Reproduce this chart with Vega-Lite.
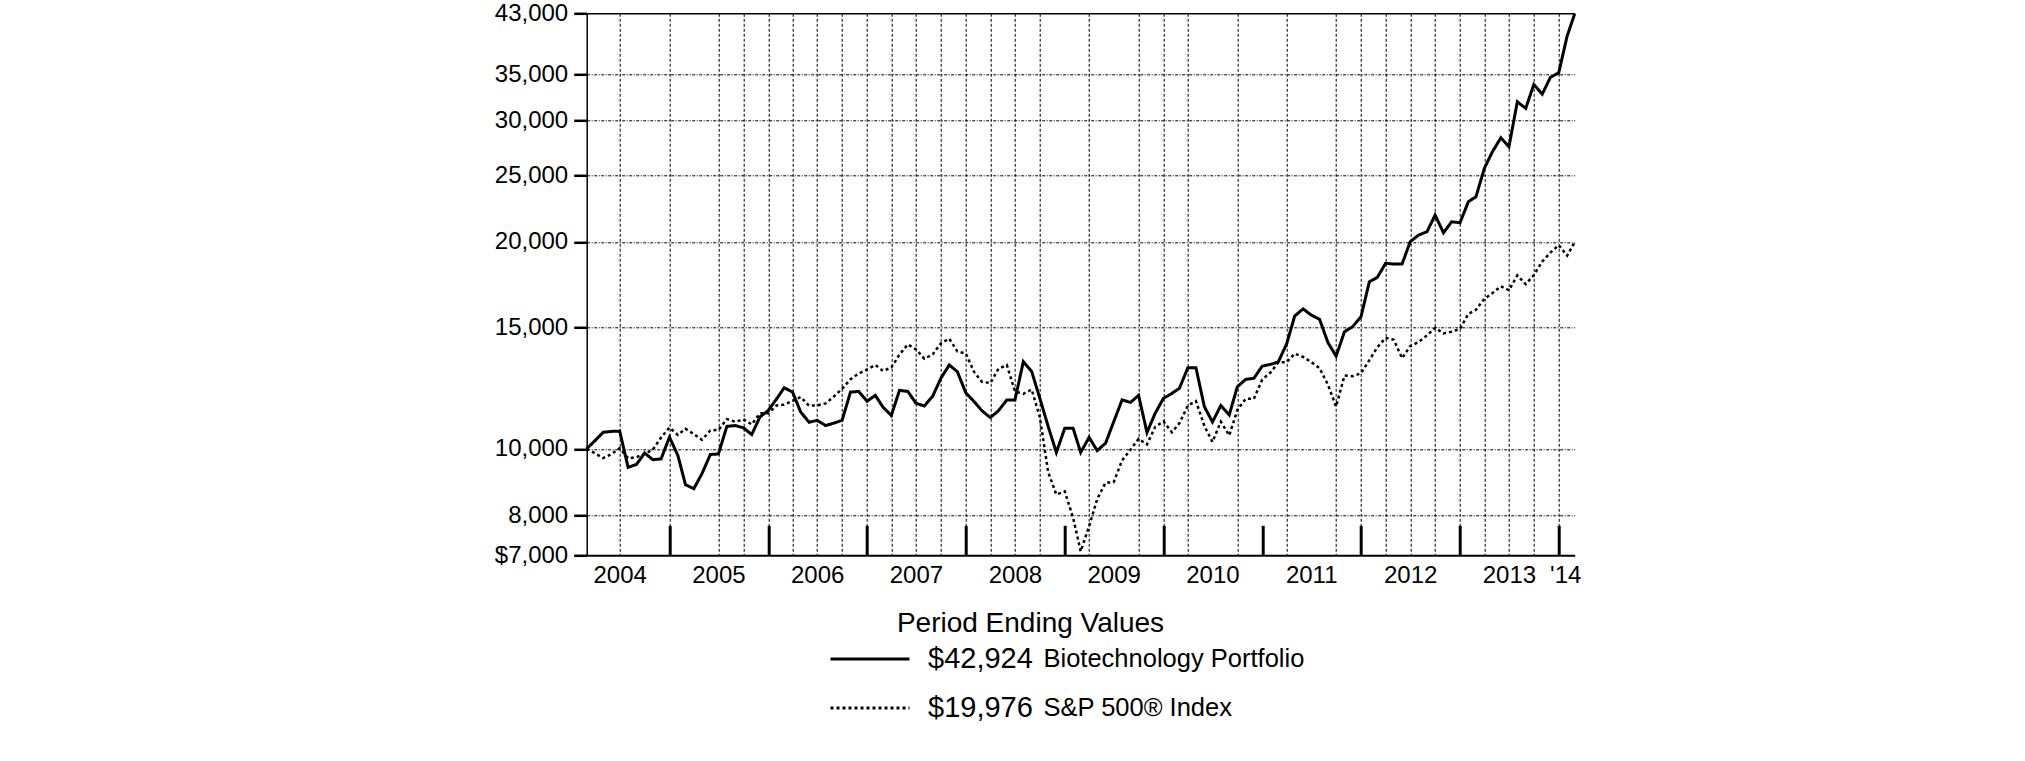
{
  "$schema": "https://vega.github.io/schema/vega-lite/v6.json",
  "width": 988,
  "height": 542,
  "autosize": {"type": "none"},
  "padding": {"left": 586.7, "top": 13.3, "right": 450.3, "bottom": 205.7},
  "background": "white",
  "config": {"font": "Liberation Sans", "view": {"stroke": null}},
  "data": {"values": [
    {"date": "2004-02-29", "bio": 10000, "sp": 10000},
    {"date": "2004-03-31", "bio": 10280, "sp": 9849},
    {"date": "2004-04-30", "bio": 10570, "sp": 9694},
    {"date": "2004-05-31", "bio": 10600, "sp": 9827},
    {"date": "2004-06-30", "bio": 10610, "sp": 10018},
    {"date": "2004-07-31", "bio": 9400, "sp": 9686},
    {"date": "2004-08-31", "bio": 9490, "sp": 9725},
    {"date": "2004-09-30", "bio": 9860, "sp": 9830},
    {"date": "2004-10-31", "bio": 9640, "sp": 9981},
    {"date": "2004-11-30", "bio": 9670, "sp": 10385},
    {"date": "2004-12-31", "bio": 10400, "sp": 10738},
    {"date": "2005-01-31", "bio": 9780, "sp": 10476},
    {"date": "2005-02-28", "bio": 8870, "sp": 10696},
    {"date": "2005-03-31", "bio": 8750, "sp": 10507},
    {"date": "2005-04-30", "bio": 9200, "sp": 10307},
    {"date": "2005-05-31", "bio": 9810, "sp": 10635},
    {"date": "2005-06-30", "bio": 9830, "sp": 10650},
    {"date": "2005-07-31", "bio": 10780, "sp": 11046},
    {"date": "2005-08-31", "bio": 10810, "sp": 10946},
    {"date": "2005-09-30", "bio": 10730, "sp": 11035},
    {"date": "2005-10-31", "bio": 10490, "sp": 10851},
    {"date": "2005-11-30", "bio": 11120, "sp": 11261},
    {"date": "2005-12-31", "bio": 11370, "sp": 11264},
    {"date": "2006-01-31", "bio": 11820, "sp": 11563},
    {"date": "2006-02-28", "bio": 12270, "sp": 11594},
    {"date": "2006-03-31", "bio": 12090, "sp": 11738},
    {"date": "2006-04-30", "bio": 11310, "sp": 11895},
    {"date": "2006-05-31", "bio": 10930, "sp": 11553},
    {"date": "2006-06-30", "bio": 11000, "sp": 11569},
    {"date": "2006-07-31", "bio": 10810, "sp": 11641},
    {"date": "2006-08-31", "bio": 10900, "sp": 11918},
    {"date": "2006-09-30", "bio": 11000, "sp": 12225},
    {"date": "2006-10-31", "bio": 12090, "sp": 12624},
    {"date": "2006-11-30", "bio": 12120, "sp": 12864},
    {"date": "2006-12-31", "bio": 11730, "sp": 13044},
    {"date": "2007-01-31", "bio": 11960, "sp": 13241},
    {"date": "2007-02-28", "bio": 11500, "sp": 12982},
    {"date": "2007-03-31", "bio": 11180, "sp": 13127},
    {"date": "2007-04-30", "bio": 12160, "sp": 13709},
    {"date": "2007-05-31", "bio": 12120, "sp": 14188},
    {"date": "2007-06-30", "bio": 11650, "sp": 13953},
    {"date": "2007-07-31", "bio": 11540, "sp": 13520},
    {"date": "2007-08-31", "bio": 11930, "sp": 13723},
    {"date": "2007-09-30", "bio": 12660, "sp": 14236},
    {"date": "2007-10-31", "bio": 13240, "sp": 14462},
    {"date": "2007-11-30", "bio": 12950, "sp": 13858},
    {"date": "2007-12-31", "bio": 12070, "sp": 13762},
    {"date": "2008-01-31", "bio": 11710, "sp": 12936},
    {"date": "2008-02-29", "bio": 11360, "sp": 12516},
    {"date": "2008-03-31", "bio": 11100, "sp": 12462},
    {"date": "2008-04-30", "bio": 11360, "sp": 13069},
    {"date": "2008-05-31", "bio": 11780, "sp": 13239},
    {"date": "2008-06-30", "bio": 11780, "sp": 12123},
    {"date": "2008-07-31", "bio": 13390, "sp": 12021},
    {"date": "2008-08-31", "bio": 12950, "sp": 12195},
    {"date": "2008-09-30", "bio": 11840, "sp": 11108},
    {"date": "2008-10-31", "bio": 10770, "sp": 9242},
    {"date": "2008-11-30", "bio": 9880, "sp": 8579},
    {"date": "2008-12-31", "bio": 10710, "sp": 8670},
    {"date": "2009-01-31", "bio": 10710, "sp": 7939},
    {"date": "2009-02-28", "bio": 9880, "sp": 7094},
    {"date": "2009-03-31", "bio": 10390, "sp": 7715},
    {"date": "2009-04-30", "bio": 9940, "sp": 8453},
    {"date": "2009-05-31", "bio": 10190, "sp": 8926},
    {"date": "2009-06-30", "bio": 10950, "sp": 8944},
    {"date": "2009-07-31", "bio": 11780, "sp": 9620},
    {"date": "2009-08-31", "bio": 11680, "sp": 9968},
    {"date": "2009-09-30", "bio": 11960, "sp": 10340},
    {"date": "2009-10-31", "bio": 10560, "sp": 10148},
    {"date": "2009-11-30", "bio": 11260, "sp": 10757},
    {"date": "2009-12-31", "bio": 11840, "sp": 10964},
    {"date": "2010-01-31", "bio": 12040, "sp": 10569},
    {"date": "2010-02-28", "bio": 12250, "sp": 10897},
    {"date": "2010-03-31", "bio": 13120, "sp": 11554},
    {"date": "2010-04-30", "bio": 13120, "sp": 11737},
    {"date": "2010-05-31", "bio": 11520, "sp": 10799},
    {"date": "2010-06-30", "bio": 10940, "sp": 10234},
    {"date": "2010-07-31", "bio": 11560, "sp": 10951},
    {"date": "2010-08-31", "bio": 11200, "sp": 10457},
    {"date": "2010-09-30", "bio": 12310, "sp": 11390},
    {"date": "2010-10-31", "bio": 12620, "sp": 11823},
    {"date": "2010-11-30", "bio": 12660, "sp": 11824},
    {"date": "2010-12-31", "bio": 13190, "sp": 12614},
    {"date": "2011-01-31", "bio": 13270, "sp": 12913},
    {"date": "2011-02-28", "bio": 13370, "sp": 13356},
    {"date": "2011-03-31", "bio": 14200, "sp": 13361},
    {"date": "2011-04-30", "bio": 15600, "sp": 13757},
    {"date": "2011-05-31", "bio": 15980, "sp": 13602},
    {"date": "2011-06-30", "bio": 15650, "sp": 13375},
    {"date": "2011-07-31", "bio": 15430, "sp": 13103},
    {"date": "2011-08-31", "bio": 14270, "sp": 12391},
    {"date": "2011-09-30", "bio": 13640, "sp": 11520},
    {"date": "2011-10-31", "bio": 14800, "sp": 12779},
    {"date": "2011-11-30", "bio": 15050, "sp": 12751},
    {"date": "2011-12-31", "bio": 15560, "sp": 12881},
    {"date": "2012-01-31", "bio": 17500, "sp": 13458},
    {"date": "2012-02-29", "bio": 17750, "sp": 14039},
    {"date": "2012-03-31", "bio": 18610, "sp": 14501},
    {"date": "2012-04-30", "bio": 18570, "sp": 14410},
    {"date": "2012-05-31", "bio": 18570, "sp": 13544},
    {"date": "2012-06-30", "bio": 20010, "sp": 14102},
    {"date": "2012-07-31", "bio": 20460, "sp": 14298},
    {"date": "2012-08-31", "bio": 20690, "sp": 14620},
    {"date": "2012-09-30", "bio": 21880, "sp": 14997},
    {"date": "2012-10-31", "bio": 20620, "sp": 14720},
    {"date": "2012-11-30", "bio": 21390, "sp": 14805},
    {"date": "2012-12-31", "bio": 21320, "sp": 14940},
    {"date": "2013-01-31", "bio": 22880, "sp": 15714},
    {"date": "2013-02-28", "bio": 23260, "sp": 15928},
    {"date": "2013-03-31", "bio": 25580, "sp": 16525},
    {"date": "2013-04-30", "bio": 27050, "sp": 16844},
    {"date": "2013-05-31", "bio": 28340, "sp": 17238},
    {"date": "2013-06-30", "bio": 27500, "sp": 17007},
    {"date": "2013-07-31", "bio": 31980, "sp": 17873},
    {"date": "2013-08-31", "bio": 31270, "sp": 17355},
    {"date": "2013-09-30", "bio": 33890, "sp": 17900},
    {"date": "2013-10-31", "bio": 32800, "sp": 18723},
    {"date": "2013-11-30", "bio": 34690, "sp": 19294},
    {"date": "2013-12-31", "bio": 35240, "sp": 19782},
    {"date": "2014-01-31", "bio": 39840, "sp": 19098},
    {"date": "2014-02-28", "bio": 42924, "sp": 19976}
  ]},
  "transform": [{"fold": ["bio", "sp"], "as": ["key", "value"]}],
  "mark": {"type": "line", "strokeJoin": "miter"},
  "encoding": {
    "x": {
      "field": "date",
      "type": "temporal",
      "scale": {
        "type": "utc",
        "nice": false,
        "domain": [{"year": 2004, "month": 2, "date": 29, "utc": true}, {"year": 2014, "month": 2, "date": 28, "utc": true}]
      },
      "axis": {
        "values": [
          {"year": 2004, "month": 6, "date": 30, "utc": true},
          {"year": 2004, "month": 12, "date": 31, "utc": true},
          {"year": 2005, "month": 6, "date": 30, "utc": true},
          {"year": 2005, "month": 9, "date": 30, "utc": true},
          {"year": 2005, "month": 12, "date": 31, "utc": true},
          {"year": 2006, "month": 3, "date": 31, "utc": true},
          {"year": 2006, "month": 6, "date": 30, "utc": true},
          {"year": 2006, "month": 9, "date": 30, "utc": true},
          {"year": 2006, "month": 12, "date": 31, "utc": true},
          {"year": 2007, "month": 3, "date": 31, "utc": true},
          {"year": 2007, "month": 6, "date": 30, "utc": true},
          {"year": 2007, "month": 9, "date": 30, "utc": true},
          {"year": 2007, "month": 12, "date": 31, "utc": true},
          {"year": 2008, "month": 3, "date": 31, "utc": true},
          {"year": 2008, "month": 6, "date": 30, "utc": true},
          {"year": 2008, "month": 9, "date": 30, "utc": true},
          {"year": 2008, "month": 12, "date": 31, "utc": true},
          {"year": 2009, "month": 3, "date": 31, "utc": true},
          {"year": 2009, "month": 6, "date": 30, "utc": true},
          {"year": 2009, "month": 9, "date": 30, "utc": true},
          {"year": 2009, "month": 12, "date": 31, "utc": true},
          {"year": 2010, "month": 3, "date": 31, "utc": true},
          {"year": 2010, "month": 6, "date": 30, "utc": true},
          {"year": 2010, "month": 9, "date": 30, "utc": true},
          {"year": 2010, "month": 12, "date": 31, "utc": true},
          {"year": 2011, "month": 3, "date": 31, "utc": true},
          {"year": 2011, "month": 6, "date": 30, "utc": true},
          {"year": 2011, "month": 9, "date": 30, "utc": true},
          {"year": 2011, "month": 12, "date": 31, "utc": true},
          {"year": 2012, "month": 3, "date": 31, "utc": true},
          {"year": 2012, "month": 6, "date": 30, "utc": true},
          {"year": 2012, "month": 9, "date": 30, "utc": true},
          {"year": 2012, "month": 12, "date": 31, "utc": true},
          {"year": 2013, "month": 3, "date": 31, "utc": true},
          {"year": 2013, "month": 6, "date": 30, "utc": true},
          {"year": 2013, "month": 9, "date": 30, "utc": true},
          {"year": 2013, "month": 12, "date": 31, "utc": true},
          {"year": 2014, "month": 1, "date": 24, "utc": true}
        ],
        "labelExpr": "utcyear(datum.value)==2014 ? \"'14\" : (utcmonth(datum.value)==5 ? '' + utcyear(datum.value) : '')",
        "labelFontSize": 24,
        "labelColor": "black",
        "labelFlush": false,
        "labelOverlap": false,
        "labelBound": false,
        "labelAngle": 0,
        "labelPadding": 38,
        "tickSize": -30,
        "tickWidth": 3,
        "tickColor": "black",
        "tickOpacity": {"condition": {"test": "utcmonth(datum.value)==11", "value": 1}, "value": 0},
        "grid": true,
        "gridColor": "black",
        "gridWidth": 1,
        "gridDash": [3, 2],
        "gridOpacity": {"condition": {"test": "(utcmonth(datum.value)==11 && (utcyear(datum.value)==2008 || utcyear(datum.value)==2010)) || (utcmonth(datum.value)==5 && utcyear(datum.value)>=2009 && utcyear(datum.value)<=2011) || utcyear(datum.value)==2014", "value": 0}, "value": 1},
        "domainColor": "black",
        "domainWidth": 2,
        "title": "Period Ending Values",
        "titleFontSize": 28,
        "titleFontWeight": "normal",
        "titleColor": "black",
        "titleX": 443.3,
        "titleY": 75.7,
        "titleAlign": "center",
        "titleBaseline": "alphabetic"
      }
    },
    "y": {
      "field": "value",
      "type": "quantitative",
      "scale": {"type": "log", "domain": [7000, 43000], "nice": false},
      "axis": {
        "values": [7000, 8000, 10000, 15000, 20000, 25000, 30000, 35000, 43000],
        "title": null,
        "labelExpr": "datum.value==7000 ? '$7,000' : format(datum.value, ',')",
        "labelFontSize": 24,
        "labelColor": "black",
        "labelPadding": 6,
        "labelOverlap": false,
        "labelFlush": false,
        "labelBound": false,
        "tickSize": 13,
        "tickWidth": 2.5,
        "tickColor": "black",
        "grid": true,
        "gridColor": "black",
        "gridWidth": {"condition": {"test": "datum.value==43000", "value": 1.5}, "value": 1},
        "gridDash": {"condition": {"test": "datum.value==43000", "value": []}, "value": [3, 1.5, 1, 1.5]},
        "gridOpacity": {"condition": {"test": "datum.value==7000", "value": 0}, "value": 1},
        "domainColor": "black",
        "domainWidth": 1.5
      }
    },
    "stroke": {
      "field": "key",
      "type": "nominal",
      "scale": {"range": ["black", "black"]},
      "legend": {
        "orient": "none",
        "legendX": 242.3,
        "legendY": 630.7,
        "direction": "vertical",
        "title": null,
        "padding": 0,
        "symbolType": "stroke",
        "symbolSize": 6241,
        "symbolStrokeWidth": 3,
        "labelFontSize": 29,
        "labelColor": "black",
        "labelOffset": 17,
        "labelLimit": 500,
        "labelExpr": "datum.value=='bio' ? '$42,924' : '$19,976'",
        "clipHeight": 30,
        "rowPadding": 19
      }
    },
    "strokeDash": {
      "field": "key",
      "type": "nominal",
      "scale": {"range": [[1, 0], [3, 3]]},
      "legend": {
        "orient": "none",
        "legendX": 242.3,
        "legendY": 630.7,
        "direction": "vertical",
        "title": null,
        "padding": 0,
        "symbolType": "stroke",
        "symbolSize": 6241,
        "symbolStrokeWidth": 3,
        "labelFontSize": 29,
        "labelColor": "black",
        "labelOffset": 17,
        "labelLimit": 500,
        "labelExpr": "datum.value=='bio' ? '$42,924' : '$19,976'",
        "clipHeight": 30,
        "rowPadding": 19
      }
    },
    "strokeWidth": {
      "field": "key",
      "type": "ordinal",
      "scale": {"domain": ["bio", "sp"], "range": [3, 2.5]},
      "legend": {
        "orient": "none",
        "legendX": 431.3,
        "legendY": 630.7,
        "direction": "vertical",
        "title": null,
        "padding": 0,
        "symbolSize": 1,
        "symbolOpacity": 0,
        "labelFontSize": 25.5,
        "labelColor": "black",
        "labelOffset": 0,
        "labelLimit": 500,
        "labelExpr": "datum.value=='bio' ? 'Biotechnology Portfolio' : 'S&P 500® Index'",
        "clipHeight": 30,
        "rowPadding": 19
      }
    }
  }
}
